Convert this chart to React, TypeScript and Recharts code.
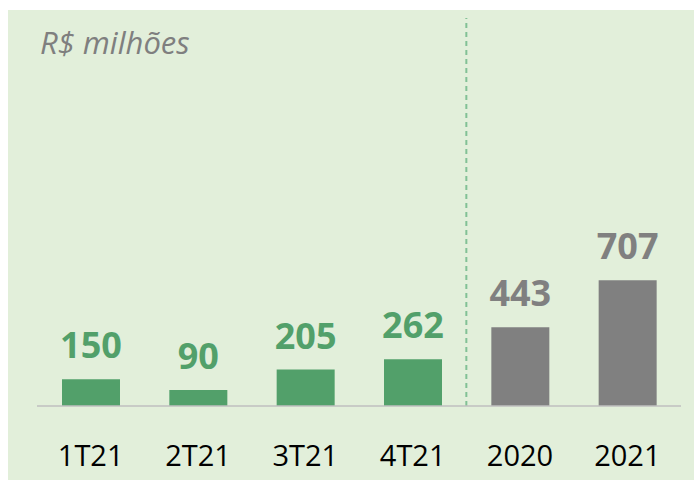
import React from 'react';
import { BarChart, Bar, XAxis, YAxis, Cell, LabelList, ReferenceLine } from 'recharts';

const categories = ['1T21', '2T21', '3T21', '4T21', '2020', '2021'];
const values = [150, 90, 205, 262, 443, 707];
const periodType = ['tri', 'tri', 'tri', 'tri', 'ano', 'ano'];

const GREEN = '#52a06a';
const GRAY = '#808080';

const data = categories.map((name, i) => ({ name, value: values[i], type: periodType[i] }));

const colorOf = (i: number) => (periodType[i] === 'ano' ? GRAY : GREEN);

const ValueLabel = (props: any) => {
  const { x, y, width, value, index } = props;
  return (
    <text
      x={x + width / 2}
      y={y - 21}
      textAnchor="middle"
      fill={colorOf(index)}
      fontSize={36}
      fontWeight={700}
      fontFamily="'Open Sans', sans-serif"
    >
      {value}
    </text>
  );
};

const CategoryTick = (props: any) => {
  const { x, y, payload } = props;
  return (
    <text
      x={x}
      y={y + 58}
      textAnchor="middle"
      fill="#000"
      fontSize={29}
      fontFamily="'Open Sans', sans-serif"
    >
      {payload.value}
    </text>
  );
};

export default function App() {
  return (
    <div
      style={{
        position: 'absolute',
        left: 8,
        top: 10,
        width: 686,
        height: 470,
        background: '#e2efda',
      }}
    >
      <div
        style={{
          position: 'absolute',
          left: 32,
          top: 17,
          fontFamily: "'Open Sans', sans-serif",
          fontStyle: 'italic',
          fontSize: 31,
          color: '#7f7f7f',
          lineHeight: 1,
        }}
      >
        R$ milhões
      </div>
      <BarChart
        width={686}
        height={470}
        data={data}
        margin={{ top: 8, right: 13, left: 29, bottom: 0 }}
      >
        <XAxis
          dataKey="name"
          height={74}
          tickSize={0}
          tickLine={false}
          axisLine={{ stroke: '#bfbfbf', strokeWidth: 1.5 }}
          tick={<CategoryTick />}
          interval={0}
        />
        <YAxis hide domain={[0, 2180]} />
        {/* separador trimestres / anos */}
        <ReferenceLine
          x="2020"
          position="start"
          stroke="#82c195"
          strokeWidth={2}
          strokeDasharray="5 4"
        />
        <Bar dataKey="value" barSize={58} isAnimationActive={false}>
          {data.map((d, i) => (
            <Cell key={d.name} fill={colorOf(i)} />
          ))}
          <LabelList dataKey="value" content={<ValueLabel />} />
        </Bar>
      </BarChart>
    </div>
  );
}
